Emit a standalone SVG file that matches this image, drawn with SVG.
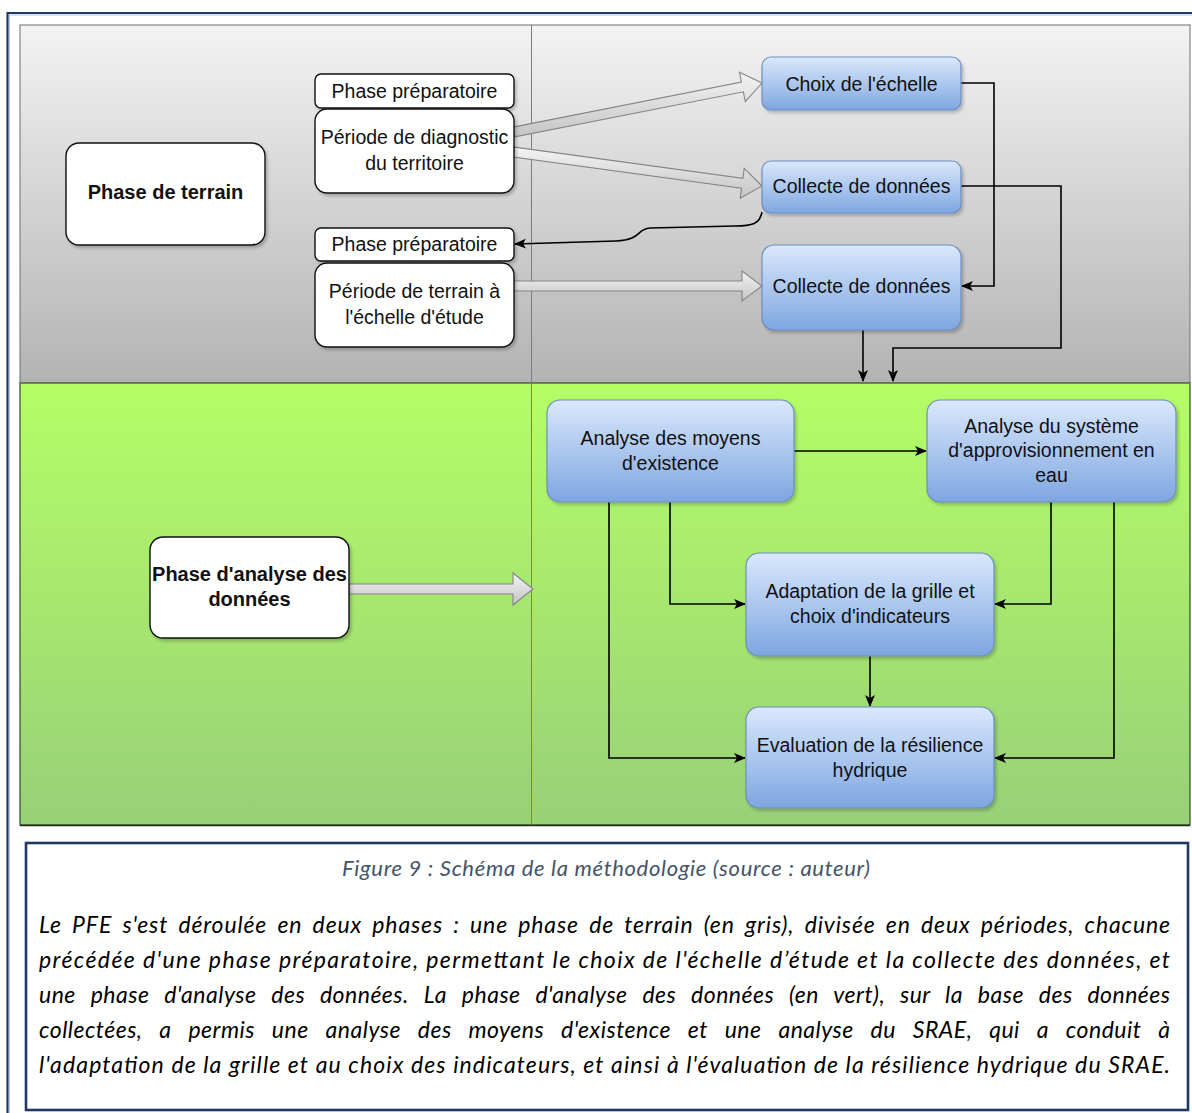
<svg xmlns="http://www.w3.org/2000/svg" width="1192" height="1113" viewBox="0 0 1192 1113">
  <defs>
    <linearGradient id="gGray" x1="0" y1="0" x2="0" y2="1">
      <stop offset="0" stop-color="#f3f3f3"/>
      <stop offset="1" stop-color="#b3b3b3"/>
    </linearGradient>
    <linearGradient id="gGreen" x1="0" y1="0" x2="0" y2="1">
      <stop offset="0" stop-color="#b4fe66"/>
      <stop offset="1" stop-color="#98d078"/>
    </linearGradient>
    <linearGradient id="gBlue" x1="0" y1="0" x2="0" y2="1">
      <stop offset="0" stop-color="#dae8fc"/>
      <stop offset="1" stop-color="#7ea6e0"/>
    </linearGradient>
    <linearGradient id="gFlex" x1="0" y1="0" x2="0" y2="1">
      <stop offset="0" stop-color="#f4f4f4"/>
      <stop offset="1" stop-color="#c4c4c4"/>
    </linearGradient>
    <filter id="shadow" x="-10%" y="-10%" width="130%" height="140%">
      <feDropShadow dx="2" dy="2.5" stdDeviation="1.5" flood-color="#000" flood-opacity="0.22"/>
    </filter>
    <marker id="arrow" viewBox="0 0 12 10" refX="11" refY="5" markerWidth="12" markerHeight="10" markerUnits="userSpaceOnUse" orient="auto">
      <path d="M0,0 L12,5 L0,10 L3,5 Z" fill="#000"/>
    </marker>
    <style>
      .lbl { font-family: "Liberation Sans", Arial, sans-serif; font-size: 19.5px; fill: #111; text-anchor: middle; }
      .bold { font-weight: bold; font-size: 20px; }
      .white { fill: #ffffff; stroke: #111; stroke-width: 1.4; }
      .blue { fill: url(#gBlue); stroke: #6c8ebf; stroke-width: 1.2; }
      .edge { fill: none; stroke: #000; stroke-width: 1.6; marker-end: url(#arrow); }
      .flex { fill: url(#gFlex); stroke: #858585; stroke-width: 1.1; stroke-linejoin: miter; }
      .body { font-family: Lato, "Open Sans", sans-serif; font-style: italic; font-size: 23px; fill: #000; }
      .cap { font-family: Lato, "Open Sans", sans-serif; font-style: italic; font-size: 22px; fill: #44546a; }
    </style>
  </defs>

  <rect x="0" y="0" width="1192" height="1113" fill="#ffffff"/>

  <!-- page frame -->
  <g id="frame">
    <line x1="7" y1="13" x2="1192" y2="13" stroke="#1f3864" stroke-width="2.2"/>
    <line x1="7" y1="15" x2="1192" y2="15" stroke="#b4c2da" stroke-width="1"/>
    <line x1="7.5" y1="12" x2="7.5" y2="1113" stroke="#1f3864" stroke-width="2.2"/>
    <line x1="9.5" y1="15" x2="9.5" y2="1113" stroke="#b4c2da" stroke-width="1"/>
  </g>

  <!-- swimlanes -->
  <g id="lanes">
    <rect x="20" y="25" width="1170" height="358" fill="url(#gGray)" stroke="#6e6e6e" stroke-width="1"/>
    <rect x="20" y="383" width="1170" height="442" fill="url(#gGreen)" stroke="#2f4a22" stroke-width="1.2"/>
    <line x1="20" y1="383" x2="1190" y2="383" stroke="#7a7a7a" stroke-width="1"/>
    <line x1="531.5" y1="25" x2="531.5" y2="825" stroke="#7d7d7d" stroke-width="1"/>
    <line x1="20" y1="825.5" x2="1190" y2="825.5" stroke="#1e2f14" stroke-width="1.6"/>
  </g>

  <!-- connectors -->
  <g id="connectors">
    <polygon class="flex" points="513,127.1 741.4,82 739.5,72.2 762,83 745.3,101.6 743.4,91.8 515,136.9"/>
    <polygon class="flex" points="514.7,147.1 742.9,178.3 744.2,168.4 762,186 740.2,198.2 741.5,188.3 513.3,157"/>
    <polygon class="flex" points="514,281 742,281 742,271 762,286 742,301 742,291 514,291"/>
    <polygon class="flex" points="349,584 513,584 513,573 533,589 513,605 513,594 349,594"/>

    <path class="edge" d="M762,212 C760,224 752,226 735,226 L650,228 C636,229 642,240 616,241 L515,244"/>
    <path class="edge" d="M961,83 H994 V286 H962"/>
    <path class="edge" d="M961,186 H1061 V348 H893 V381"/>
    <path class="edge" d="M863,330 V381"/>

    <path class="edge" d="M794,451 H926"/>
    <path class="edge" d="M670,502 V604 H745"/>
    <path class="edge" d="M609,502 V758 H745"/>
    <path class="edge" d="M1051,502 V604 H995"/>
    <path class="edge" d="M1114,502 V758 H995"/>
    <path class="edge" d="M870,656 V706"/>
  </g>

  <!-- nodes -->
  <g id="phase-terrain">
    <rect class="white" x="66" y="143" width="199" height="102" rx="13" filter="url(#shadow)"/>
    <text class="lbl bold" x="165.5" y="199">Phase de terrain</text>
  </g>
  <g id="prep-1">
    <rect class="white" x="315" y="74" width="199" height="34" rx="6" filter="url(#shadow)"/>
    <text class="lbl" x="414.5" y="98">Phase préparatoire</text>
  </g>
  <g id="periode-diagnostic">
    <rect class="white" x="315" y="109" width="199" height="84" rx="12" filter="url(#shadow)"/>
    <text class="lbl" x="414.5" y="144">Période de diagnostic</text>
    <text class="lbl" x="414.5" y="170">du territoire</text>
  </g>
  <g id="prep-2">
    <rect class="white" x="315" y="228" width="199" height="33" rx="6" filter="url(#shadow)"/>
    <text class="lbl" x="414.5" y="251">Phase préparatoire</text>
  </g>
  <g id="periode-terrain">
    <rect class="white" x="315" y="263" width="199" height="84" rx="12" filter="url(#shadow)"/>
    <text class="lbl" x="414.5" y="298">Période de terrain à</text>
    <text class="lbl" x="414.5" y="324">l'échelle d'étude</text>
  </g>
  <g id="choix-echelle">
    <rect class="blue" x="762" y="57" width="199" height="53" rx="9" filter="url(#shadow)"/>
    <text class="lbl" x="861.5" y="91">Choix de l'échelle</text>
  </g>
  <g id="collecte-1">
    <rect class="blue" x="762" y="161" width="199" height="52" rx="9" filter="url(#shadow)"/>
    <text class="lbl" x="861.5" y="193">Collecte de données</text>
  </g>
  <g id="collecte-2">
    <rect class="blue" x="762" y="245" width="199" height="85" rx="12" filter="url(#shadow)"/>
    <text class="lbl" x="861.5" y="293">Collecte de données</text>
  </g>
  <g id="phase-analyse">
    <rect class="white" x="150" y="537" width="199" height="101" rx="13" filter="url(#shadow)"/>
    <text class="lbl bold" x="249.5" y="581">Phase d'analyse des</text>
    <text class="lbl bold" x="249.5" y="606">données</text>
  </g>
  <g id="analyse-moyens">
    <rect class="blue" x="547" y="400" width="247" height="102" rx="13" filter="url(#shadow)"/>
    <text class="lbl" x="670.5" y="445">Analyse des moyens</text>
    <text class="lbl" x="670.5" y="470">d'existence</text>
  </g>
  <g id="analyse-systeme">
    <rect class="blue" x="927" y="400" width="249" height="102" rx="13" filter="url(#shadow)"/>
    <text class="lbl" x="1051.5" y="433">Analyse du système</text>
    <text class="lbl" x="1051.5" y="457">d'approvisionnement en</text>
    <text class="lbl" x="1051.5" y="482">eau</text>
  </g>
  <g id="adaptation-grille">
    <rect class="blue" x="746" y="553" width="248" height="103" rx="13" filter="url(#shadow)"/>
    <text class="lbl" x="870" y="598">Adaptation de la grille et</text>
    <text class="lbl" x="870" y="623">choix d'indicateurs</text>
  </g>
  <g id="evaluation-resilience">
    <rect class="blue" x="746" y="707" width="248" height="101" rx="13" filter="url(#shadow)"/>
    <text class="lbl" x="870" y="752">Evaluation de la résilience</text>
    <text class="lbl" x="870" y="777">hydrique</text>
  </g>

  <!-- caption block: justified paragraph (word-spacing per line, length fixed) -->
  <g id="caption">
    <rect x="26" y="843" width="1162" height="267" fill="#ffffff" stroke="#1f3864" stroke-width="2.6"/>
    <text class="cap" x="342" y="876" textLength="528" lengthAdjust="spacing">Figure 9 : Schéma de la méthodologie (source : auteur)</text>
    <text class="body" x="39" y="933" word-spacing="4" textLength="1131" lengthAdjust="spacing">Le PFE s'est déroulée en deux phases : une phase de terrain (en gris), divisée en deux périodes, chacune</text>
    <text class="body" x="39" y="968" textLength="1131" lengthAdjust="spacing">précédée d'une phase préparatoire, permettant le choix de l'échelle d’étude et la collecte des données, et</text>
    <text class="body" x="39" y="1003" word-spacing="9" textLength="1131" lengthAdjust="spacing">une phase d'analyse des données. La phase d'analyse des données (en vert), sur la base des données</text>
    <text class="body" x="39" y="1038" word-spacing="11" textLength="1131" lengthAdjust="spacing">collectées, a permis une analyse des moyens d'existence et une analyse du SRAE, qui a conduit à</text>
    <text class="body" x="39" y="1073" textLength="1131" lengthAdjust="spacing">l'adaptation de la grille et au choix des indicateurs, et ainsi à l'évaluation de la résilience hydrique du SRAE.</text>
  </g>
</svg>
